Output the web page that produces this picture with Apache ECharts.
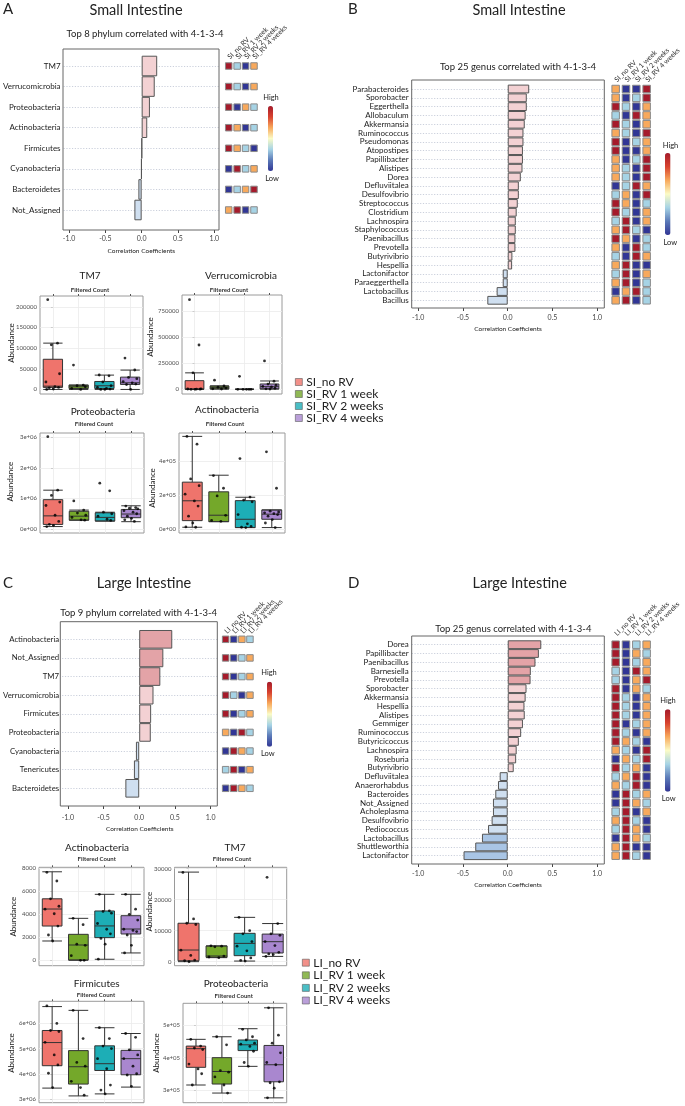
<!DOCTYPE html>
<html><head><meta charset="utf-8">
<script src="https://cdn.jsdelivr.net/npm/echarts/dist/echarts.min.js"></script>
<style>html,body{margin:0;padding:0;background:#fff}#c{width:685px;height:1106px}</style>
</head><body><div id="c"></div>
<script>
// ---------------- DATA ----------------
const SI_GROUPS = ['SI_no RV','SI_RV 1 week','SI_RV 2 weeks','SI_RV 4 weeks'];
const LI_GROUPS = ['LI_no RV','LI_RV 1 week','LI_RV 2 weeks','LI_RV 4 weeks'];
const CORR_TICKS = [-1, -0.5, 0, 0.5, 1];

// Panel A: phylum, small intestine
const A_taxa = ['TM7','Verrucomicrobia','Proteobacteria','Actinobacteria','Firmicutes','Cyanobacteria','Bacteroidetes','Not_Assigned'];
const A_corr = [0.214, 0.18, 0.114, 0.077, 0.004, -0.006, -0.045, -0.10];
// heat levels: 1 = low (dark blue), 2 = light blue, 3 = orange, 4 = high (dark red)
const A_heat = [[4,2,1,3],[4,2,1,3],[4,1,3,2],[4,3,1,2],[4,3,2,1],[1,4,2,3],[1,2,3,4],[3,4,1,2]];

// Panel B: genus, small intestine
const B_taxa = ['Parabacteroides','Sporobacter','Eggerthella','Allobaculum','Akkermansia','Ruminococcus','Pseudomonas','Atopostipes','Papillibacter','Alistipes','Dorea','Defluviitalea','Desulfovibrio','Streptococcus','Clostridium','Lachnospira','Staphylococcus','Paenibacillus','Prevotella','Butyrivibrio','Hespellia','Lactonifactor','Paraeggerthella','Lactobacillus','Bacillus'];
const B_corr = [0.24, 0.213, 0.213, 0.20, 0.19, 0.176, 0.176, 0.17, 0.17, 0.165, 0.146, 0.124, 0.124, 0.112, 0.10, 0.09, 0.09, 0.086, 0.086, 0.052, 0.049, -0.056, -0.056, -0.124, -0.228];
const B_heat = [[3,1,1,4],[3,1,2,4],[4,2,1,3],[2,1,4,3],[4,2,1,3],[3,2,1,4],[4,1,2,3],[4,1,1,3],[3,1,2,4],[3,2,1,4],[3,2,1,4],[1,2,4,3],[2,3,1,4],[4,3,1,2],[4,2,1,3],[2,4,1,3],[3,4,2,1],[4,3,1,2],[3,1,4,2],[2,1,4,3],[3,4,1,1],[2,4,1,3],[3,4,1,2],[1,3,4,2],[3,4,1,2]];

// Panel C: phylum, large intestine
const C_taxa = ['Actinobacteria','Not_Assigned','TM7','Verrucomicrobia','Firmicutes','Proteobacteria','Cyanobacteria','Tenericutes','Bacteroidetes'];
const C_corr = [0.463, 0.338, 0.296, 0.20, 0.167, 0.162, -0.046, -0.074, -0.194];
const C_heat = [[4,1,3,2],[4,1,2,3],[4,1,2,3],[4,2,1,3],[4,1,2,3],[3,1,4,2],[1,4,3,2],[2,4,1,3],[1,4,3,2]];

// Panel D: genus, large intestine
const D_taxa = ['Dorea','Papillibacter','Paenibacillus','Barnesiella','Prevotella','Sporobacter','Akkermansia','Hespellia','Alistipes','Gemmiger','Ruminococcus','Butyricicoccus','Lachnospira','Roseburia','Butyrivibrio','Defluviitalea','Anaerorhabdus','Bacteroides','Not_Assigned','Acholeplasma','Desulfovibrio','Pediococcus','Lactobacillus','Shuttleworthia','Lactonifactor'];
const D_corr = [0.375, 0.348, 0.31, 0.258, 0.255, 0.21, 0.20, 0.187, 0.19, 0.17, 0.15, 0.124, 0.10, 0.094, 0.067, -0.09, -0.109, -0.139, -0.165, -0.165, -0.18, -0.22, -0.288, -0.363, -0.494];
const D_heat = [[4,1,2,3],[4,1,3,2],[4,1,2,3],[2,1,4,3],[2,1,3,4],[4,1,3,2],[4,2,1,3],[4,2,1,3],[4,2,1,3],[4,1,2,3],[4,2,1,3],[4,3,2,1],[3,2,1,4],[1,3,2,4],[4,2,3,1],[2,3,4,1],[3,2,4,1],[1,4,2,3],[1,4,3,2],[2,4,1,3],[3,4,2,1],[2,4,3,1],[1,4,3,2],[3,4,1,1],[3,4,2,1]];

// Boxplots: per group [min, Q1, median, Q3, max] and the observed points per group
const A_TM7_box = [[0,5000,8000,73000,112000],[0,2400,6500,10500,10500],[0,2400,8900,19300,34700],[0,12100,16100,29800,46800]];
const A_TM7_pts = [[217000,112000,108000,38000,18000,7000,5000,4000,1000,0],[59000,10500,9000,6500,2500,0],[35000,33000,18000,9000,5000,2500,1000,0,0],[76000,47000,29000,26000,19000,16000,13000,12000,0]];
const A_TM7_ticks = [0,50000,100000,150000,200000];

const A_VER_box = [[0,0,3000,83000,158000],[3000,3000,16000,32000,32000],[0,0,0,0,0],[3200,3200,25600,51000,80000]];
const A_VER_pts = [[860000,425000,158000,5000,3000,2000,1000,0,0],[88000,32000,20000,12000,5000,3000],[125000,0,0,0,0,0],[272000,78000,50000,40000,28000,22000,10000,5000,3000]];
const A_VER_ticks = [0,250000,500000,750000];

const A_PRO_box = [[80000,150000,430000,960000,1270000],[290000,290000,420000,580000,620000],[260000,260000,380000,530000,550000],[240000,370000,490000,640000,760000]];
const A_PRO_pts = [[3020000,1270000,1100000,880000,770000,450000,250000,150000,120000,80000],[920000,620000,520000,450000,380000,300000,290000],[1500000,1250000,550000,500000,420000,320000,280000],[750000,700000,680000,660000,600000,550000,500000,420000,350000,300000,250000]];
const A_PRO_ticks = [0,1000000,2000000,3000000];

const A_ACT_box = [[10000,49000,166000,276000,546000],[43000,43000,81000,219000,317000],[8000,8000,57000,167000,187000],[8000,57000,87000,112000,112000]];
const A_ACT_pts = [[546000,500000,295000,255000,205000,165000,135000,75000,35000,12000,10000],[315000,240000,195000,80000,50000,45000],[415000,188000,170000,160000,85000,30000,15000,10000,8000],[455000,240000,105000,100000,95000,90000,85000,75000,55000,35000,8000]];
const A_ACT_ticks = [0,200000,400000];

const C_ACT_box = [[1680,2980,4460,5350,7700],[0,30,1330,2260,3650],[90,1970,2990,4290,5740],[640,2290,2720,3880,5740]];
const C_ACT_pts = [[7650,6900,5350,4700,4450,4050,2980,2200,1680],[3650,3100,1400,1300,400,0,0],[5740,4300,4250,4100,3200,2700,2300,1900,1400,100],[5740,4450,4000,3500,2700,2600,2500,2200,1300,640]];
const C_ACT_ticks = [0,2000,4000,6000,8000];

const C_TM7_box = [[0,300,3760,12400,28900],[1300,1400,1830,5050,5100],[200,1940,5900,9150,14300],[1700,2800,6450,8900,12300]];
const C_TM7_pts = [[28800,13800,12400,12000,3700,2000,500,300,0],[5100,5000,4800,1800,1500,1300],[14300,10000,9000,6500,5000,3500,1200,400,200],[27200,12300,9000,8500,6500,5200,3000,2500,2300,1700]];
const C_TM7_ticks = [0,10000,20000,30000];

const C_FIR_box = [[3430000,4320000,5240000,5720000,6670000],[3120000,3590000,4280000,4920000,6520000],[3200000,4130000,4400000,5110000,5830000],[3470000,3960000,4600000,4930000,5600000]];
const C_FIR_pts = [[6700000,6000000,5720000,5680000,5250000,4750000,4350000,4020000,3450000],[6520000,5400000,4450000,4300000,3700000,3450000,3150000],[5830000,5400000,5100000,5000000,4600000,4200000,3550000,3350000,3200000],[5600000,5450000,4950000,4750000,4600000,4300000,4000000,3950000,3500000]];
const C_FIR_ticks = [3000000,4000000,5000000,6000000];

const C_PRO_box = [[315000,370000,428000,436000,457000],[290000,318000,357000,400000,465000],[373000,422000,440000,455000,490000],[275000,325000,378000,438000,555000]];
const C_PRO_pts = [[457000,436000,430000,425000,380000,365000,350000,315000],[465000,440000,360000,355000,340000,315000,290000],[488000,465000,455000,445000,442000,435000,420000,385000,373000],[555000,470000,445000,415000,385000,378000,325000,322000,305000,275000]];
const C_PRO_ticks = [300000,400000,500000];

// ---------------- STYLE / LAYOUT ----------------
const FONT = 'Lato, "Open Sans", sans-serif';
const GROUP_COLORS = ['#EF746C','#74A82A','#1DAEB6','#A987CF'];
const HEAT_RAMP = ['#313695','#5b7ab8','#a6d3e5','#fbfbc6','#f8a95c','#d8432f','#a51b2b'];
const JITTER = [-0.2, 0.18, -0.06, 0.26, -0.27, 0.08, 0.22, -0.14, 0.02, -0.24, 0.13, -0.02];

function barColor(v){ if (v >= 0.25) return '#e3a3a7'; if (v >= 0) return '#f3d1d3'; if (v > -0.25) return '#cfdff0'; return '#a9c5e5'; }
function sciFmt(v){ if (v === 0) return '0e+00'; const e = Math.floor(Math.log10(v)+1e-9); const m = Math.round(v/Math.pow(10,e)); return m + 'e+' + String(e).padStart(2,'0'); }

const grid=[], xAxis=[], yAxis=[], series=[], visualMap=[], graphic=[], legend=[];

function txt(s, x, y, size, o){
  o = o || {};
  graphic.push({type:'text', x:x, y:y, rotation:o.rot||0, silent:true, z:100,
    style:{text:s, fontSize:size, fontFamily:FONT, fill:o.color||'#222', fontWeight:o.weight||'normal',
      align:o.align||'center', textAlign:o.align||'center', verticalAlign:'middle', textVerticalAlign:'middle'}});
}

function barPanel(p){
  const gi = grid.length, xi = xAxis.length, yi = yAxis.length;
  grid.push({left:p.frame[0], top:p.rows[0], width:p.frame[2], height:p.rows[1]-p.rows[0]});
  xAxis.push({type:'value', gridIndex:gi, min:p.xr[0], max:p.xr[1], position:'bottom',
    offset:(p.frame[1]+p.frame[3]) - p.rows[1],
    axisLine:{show:false}, splitLine:{show:false},
    axisTick:{show:true, length:3, customValues:CORR_TICKS, lineStyle:{color:'#444'}},
    axisLabel:{customValues:CORR_TICKS, fontSize:7, margin:p.tickMargin, color:'#444', formatter:function(v){return v.toFixed(1);}},
    name:'Correlation Coefficients', nameLocation:'middle', nameGap:p.nameGap, nameTextStyle:{fontSize:6.5, color:'#222'}});
  yAxis.push({type:'category', gridIndex:gi, data:p.cats, inverse:true, boundaryGap:false,
    axisLine:{show:false}, axisTick:{show:false},
    axisLabel:{fontSize:p.catSize, margin:3, color:'#222', interval:0},
    splitLine:{show:true, interval:0, lineStyle:{type:[1.2,1.6], color:'#b5bccd', width:0.7}}});
  series.push({type:'bar', xAxisIndex:xi, yAxisIndex:yi, barWidth:'100%', clip:false,
    itemStyle:{borderColor:'#555', borderWidth:1},
    data:p.vals.map(function(v){return {value:v, itemStyle:{color:barColor(v)}};})});
  graphic.push({type:'rect', silent:true, z:50, shape:{x:p.frame[0], y:p.frame[1], width:p.frame[2], height:p.frame[3]},
    style:{fill:'none', stroke:'#666', lineWidth:1}});
  // heat squares
  const hg = grid.length, hx = xAxis.length, hy = yAxis.length;
  grid.push({left:p.heat[0], top:p.rows[0], width:p.heat[1]*4, height:p.rows[1]-p.rows[0]});
  xAxis.push({type:'category', gridIndex:hg, data:p.groups, position:'top', axisLine:{show:false}, axisTick:{show:false}, splitLine:{show:false},
    axisLabel:{rotate:-45, interval:0, fontSize:p.colSize, margin:p.colMargin, color:'#333', align:'left', verticalAlign:'middle', overflow:'none'}});
  yAxis.push({type:'category', gridIndex:hg, data:p.cats, inverse:true, boundaryGap:false, show:false});
  const si = series.length;
  const hd = [];
  p.heatVals.forEach(function(row,r){ row.forEach(function(v,c){ hd.push([c,r,v]); }); });
  series.push({type:'scatter', xAxisIndex:hx, yAxisIndex:hy, symbol:'rect', symbolSize:p.cell, data:hd,
    itemStyle:{borderColor:'#8a8a8a', borderWidth:1, opacity:1}});
  visualMap.push({type:'continuous', seriesIndex:si, dimension:2, min:1, max:4, inRange:{color:HEAT_RAMP},
    orient:'vertical', left:p.cbar[0], top:p.cbar[1], itemWidth:p.cbar[2], itemHeight:p.cbar[3],
    calculable:false, padding:0, text:null, showLabel:false, hoverLink:false});
  txt('High', p.high[0], p.high[1], 7.5);
  txt('Low', p.low[0], p.low[1], 7.5);
}

function boxPanel(b){
  const gi = grid.length;
  grid.push({left:b.frame[0], top:b.frame[1], width:b.frame[2], height:b.frame[3], show:true, borderColor:'#9a9a9a', borderWidth:1, backgroundColor:'#fff'});
  const xc = xAxis.length;
  xAxis.push({type:'category', gridIndex:gi, data:b.groups, boundaryGap:true, show:false});
  const xv = xAxis.length;
  xAxis.push({type:'value', gridIndex:gi, min:-0.5, max:3.5, axisLine:{show:false}, axisLabel:{show:false},
    axisTick:{show:true, length:2, customValues:[0,1,2,3], lineStyle:{color:'#555'}},
    splitLine:{show:true, lineStyle:{color:'#ebebeb', width:0.8}}});
  const yi = yAxis.length;
  yAxis.push({type:'value', gridIndex:gi, min:b.yr[0], max:b.yr[1], axisLine:{show:false}, splitLine:{show:false},
    axisTick:{show:true, length:2, customValues:b.ticks, lineStyle:{color:'#555'}},
    axisLabel:{customValues:b.ticks, formatter:b.sci ? sciFmt : function(v){return String(v);}, fontSize:6, color:'#4d4d4d', margin:3}});
  series.push({type:'line', xAxisIndex:xv, yAxisIndex:yi, data:[], silent:true, z:1,
    markLine:{silent:true, z:1, symbol:['none','none'], label:{show:false}, lineStyle:{color:'#ebebeb', width:0.8, type:'solid'},
      data:b.ticks.map(function(t){return {yAxis:t};})}});
  series.push({type:'boxplot', xAxisIndex:xc, yAxisIndex:yi, z:3, boxWidth:['75%','75%'],
    itemStyle:{borderColor:'#333', borderWidth:1},
    data:b.box.map(function(s,i){return {value:s, itemStyle:{color:GROUP_COLORS[i]}};})});
  const pts = [];
  b.pts.forEach(function(arr,g){ arr.forEach(function(v,k){ pts.push([g + JITTER[k % JITTER.length], v]); }); });
  series.push({type:'scatter', xAxisIndex:xv, yAxisIndex:yi, z:4, clip:false, symbolSize:2.8, itemStyle:{color:'#000'}, data:pts});
  txt(b.title, b.tpos[0], b.tpos[1], 10);
  txt('Filtered Count', b.fpos[0], b.fpos[1], 6, {weight:'bold', color:'#333'});
  txt('Abundance', b.apos[0], b.apos[1], 8, {rot:Math.PI/2});
  return {x:xv, y:yi};
}

function addLegend(groups, left, top, gap, ax){
  legend.push({orient:'vertical', left:left, top:top, padding:0, itemGap:gap, itemWidth:7, itemHeight:7, icon:'rect',
    selectedMode:false, textStyle:{fontSize:12, fontFamily:FONT, color:'#222', lineHeight:12, padding:[0,0,0,-1]},
    itemStyle:{borderColor:'#555', borderWidth:0.7},
    data:groups.map(function(g,i){return {name:g, itemStyle:{color:GROUP_COLORS[i]}};})});
  groups.forEach(function(g){ series.push({type:'scatter', name:g, data:[], xAxisIndex:ax.x, yAxisIndex:ax.y}); });
}

// ---------- Panel A ----------
txt('A', 3, 9, 15, {align:'left'});
txt('Small Intestine', 136, 10, 14.5);
txt('Top 8 phylum correlated with 4-1-3-4', 145, 34, 9.5);
barPanel({cats:A_taxa, vals:A_corr, heatVals:A_heat, groups:SI_GROUPS,
  frame:[63,49,156,181], rows:[66,210], xr:[-1.075,1.065], tickMargin:5, nameGap:17, catSize:8,
  heat:[224.5,8.43], cell:6.5, colSize:7, colMargin:8, cbar:[268,106,5,65], high:[271,98], low:[272,179]});
const a1 = boxPanel({title:'TM7', box:A_TM7_box, pts:A_TM7_pts, ticks:A_TM7_ticks, groups:SI_GROUPS, sci:false,
  frame:[40,296,103,98], yr:[-11000,226000], tpos:[90,276], fpos:[90,290], apos:[11,343]});
boxPanel({title:'Verrucomicrobia', box:A_VER_box, pts:A_VER_pts, ticks:A_VER_ticks, groups:SI_GROUPS, sci:false,
  frame:[182,295,100,99], yr:[-45000,905000], tpos:[241,276], fpos:[229,290], apos:[150,337]});
boxPanel({title:'Proteobacteria', box:A_PRO_box, pts:A_PRO_pts, ticks:A_PRO_ticks, groups:SI_GROUPS, sci:true,
  frame:[40,433,104,100], yr:[-130000,3140000], tpos:[103,411.7], fpos:[94,424.3], apos:[10.7,481.7]});
boxPanel({title:'Actinobacteria', box:A_ACT_box, pts:A_ACT_pts, ticks:A_ACT_ticks, groups:SI_GROUPS, sci:true,
  frame:[179,433,106,100], yr:[-24000,566000], tpos:[227,410], fpos:[225,424], apos:[152.3,488]});
addLegend(SI_GROUPS, 295, 376, 0, a1);

// ---------- Panel B ----------
txt('B', 348, 9, 15, {align:'left'});
txt('Small Intestine', 519, 10, 14.5);
txt('Top 25 genus correlated with 4-1-3-4', 518, 67, 9.5);
barPanel({cats:B_taxa, vals:B_corr, heatVals:B_heat, groups:SI_GROUPS,
  frame:[411.7,80,192.6,228], rows:[89,300.3], xr:[-1.073,1.079], tickMargin:6, nameGap:17, catSize:8,
  heat:[610.5,10.33], cell:7.5, colSize:7, colMargin:8, cbar:[665,153,5.5,82], high:[670.5,146], low:[670.3,242.3]});

// ---------- Panel C ----------
txt('C', 3, 583, 15, {align:'left'});
txt('Large Intestine', 144, 583, 14.5);
txt('Top 9 phylum correlated with 4-1-3-4', 138.7, 613, 9.5);
barPanel({cats:C_taxa, vals:C_corr, heatVals:C_heat, groups:LI_GROUPS,
  frame:[60.3,621.7,157,184.3], rows:[639.3,788.3], xr:[-1.08,1.094], tickMargin:8, nameGap:19, catSize:7.8,
  heat:[221.6,8.1], cell:6.5, colSize:7, colMargin:7, cbar:[267,681.7,5,65], high:[269,672.7], low:[267.8,754]});
const c1 = boxPanel({title:'Actinobacteria', box:C_ACT_box, pts:C_ACT_pts, ticks:C_ACT_ticks, groups:LI_GROUPS, sci:false,
  frame:[39,867.3,105,98.4], yr:[-470,8090], tpos:[97,847.3], fpos:[96.7,859.3], apos:[13.3,916.7]});
boxPanel({title:'TM7', box:C_TM7_box, pts:C_TM7_pts, ticks:C_TM7_ticks, groups:LI_GROUPS, sci:false,
  frame:[174.5,867.3,112.2,98.4], yr:[-1300,30450], tpos:[235,847.3], fpos:[232,859.3], apos:[149,911.7]});
boxPanel({title:'Firmicutes', box:C_FIR_box, pts:C_FIR_pts, ticks:C_FIR_ticks, groups:LI_GROUPS, sci:true,
  frame:[39,1001.3,105,101.4], yr:[2850000,6880000], tpos:[96.7,984], fpos:[96,995.3], apos:[11.7,1053]});
boxPanel({title:'Proteobacteria', box:C_PRO_box, pts:C_PRO_pts, ticks:C_PRO_ticks, groups:LI_GROUPS, sci:true,
  frame:[183,1003.3,103.7,99.4], yr:[260000,569000], tpos:[236,984], fpos:[233.7,996], apos:[156.7,1053]});
addLegend(LI_GROUPS, 302, 956.7, 0.6, c1);

// ---------- Panel D ----------
txt('D', 348, 583, 15, {align:'left'});
txt('Large Intestine', 519.7, 583.3, 14.5);
txt('Top 25 genus correlated with 4-1-3-4', 513.3, 629.3, 9.5);
barPanel({cats:D_taxa, vals:D_corr, heatVals:D_heat, groups:LI_GROUPS,
  frame:[411.7,636,192.6,228], rows:[644.7,855.7], xr:[-1.073,1.079], tickMargin:6, nameGap:17, catSize:8,
  heat:[610.5,10.33], cell:7.5, colSize:7, colMargin:10, cbar:[665,709.3,5.5,82.4], high:[668,701], low:[668.7,798.3]});

const chart = echarts.init(document.getElementById('c'), null, {renderer:'canvas'});
chart.setOption({
  animation:false,
  backgroundColor:'#fff',
  textStyle:{fontFamily:FONT},
  grid:grid, xAxis:xAxis, yAxis:yAxis, series:series, visualMap:visualMap, legend:legend, graphic:graphic
});
</script></body></html>
